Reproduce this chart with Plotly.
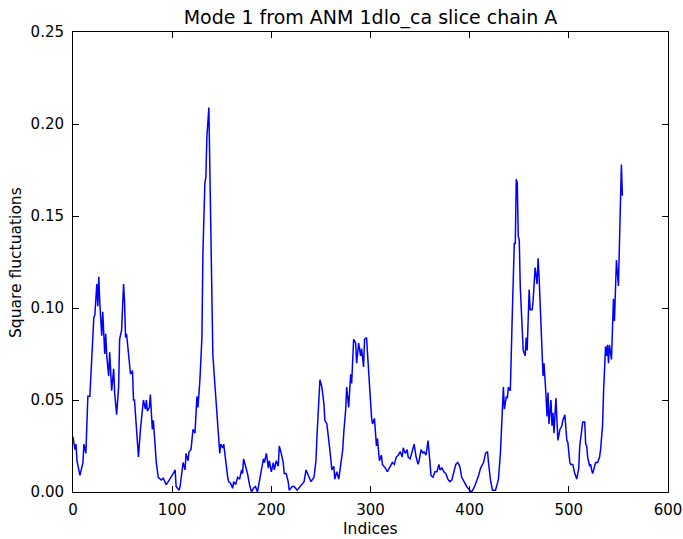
import plotly.graph_objects as go

indices = [0, 2, 3, 4, 7, 10, 11, 13, 14, 15, 17, 19, 20, 21, 22, 24, 25, 26, 27, 29,
           30, 32, 33, 34, 36, 37, 39, 41, 42, 44, 46, 47, 49, 51, 52, 53, 54, 56, 57, 58,
           60, 61, 62, 64, 66, 68, 70, 71, 73, 74, 75, 77, 78, 80, 81, 82, 84, 86, 89, 91,
           94, 97, 99, 101, 103, 104, 107, 108, 111, 113, 114, 116, 117, 119, 121, 123, 125, 126, 128, 130,
           131, 133, 134, 135, 137, 138, 140, 141, 143, 145, 146, 148, 149, 151, 152, 154, 156, 157, 159, 161,
           162, 164, 166, 168, 170, 171, 172, 174, 176, 178, 180, 182, 184, 186, 188,
           190, 192, 193, 195, 197, 198, 200, 202, 203, 205, 207, 208, 210, 212, 213, 215, 217, 218, 221, 223,
           226, 229, 231, 233, 235, 237, 239, 240, 243, 245, 246, 248, 249, 250, 251, 253, 254, 256, 258, 259,
           261, 263, 264, 266, 268, 270, 272, 273, 275, 276, 278, 280, 281, 283, 285, 286, 288, 290, 291, 293,
           294, 296, 298, 299,
           301, 302, 304, 306, 307, 309, 311, 312, 315, 317, 320, 322, 324, 326, 328, 330, 332, 333, 335, 337,
           338, 340, 342, 344, 346, 348, 349, 351, 353, 354, 356, 358, 360, 361, 363, 365, 367, 369, 370, 372,
           374, 376, 378, 380, 382, 384, 386, 388, 390, 392, 395, 397, 400,
           402, 405, 407, 409, 411, 414, 416, 418, 419, 421, 423, 426, 428, 429, 431, 432, 434, 435, 437, 438,
           439, 441, 442, 443, 445, 446, 447, 448, 449, 450, 451, 453, 454, 456, 457, 458, 459, 460, 461, 463,
           464, 465, 466, 468, 469, 470, 471, 472, 474, 475, 476, 477, 478, 479, 480, 482, 483, 484, 485, 487,
           488, 489, 491, 493, 494, 496, 498, 499,
           501, 502, 504, 505, 506, 508, 510, 511, 513, 514, 516, 517, 518, 519, 521, 522, 523, 524, 526, 527,
           529, 531, 532, 534, 535, 537, 538, 539, 540, 541, 543, 544, 545, 546, 547, 548, 550, 551, 552, 553,
           554]

sq_fluct = [0.030, 0.023, 0.026, 0.017, 0.009, 0.016, 0.026, 0.021, 0.037, 0.052, 0.052, 0.077, 0.086, 0.095, 0.096, 0.113, 0.101, 0.117, 0.103, 0.085,
            0.098, 0.075, 0.086, 0.074, 0.063, 0.076, 0.055, 0.067, 0.054, 0.042, 0.057, 0.083, 0.088, 0.113, 0.103, 0.084, 0.086, 0.074, 0.070, 0.064,
            0.066, 0.050, 0.050, 0.034, 0.019, 0.034, 0.045, 0.050, 0.045, 0.050, 0.044, 0.046, 0.053, 0.034, 0.039, 0.032, 0.016, 0.008, 0.0065, 0.0075,
            0.004, 0.0065, 0.008, 0.010, 0.012, 0.003, 0.001, 0.003, 0.016, 0.012, 0.021, 0.017, 0.022, 0.023, 0.034, 0.032, 0.052, 0.046, 0.061, 0.084,
            0.130, 0.168, 0.171, 0.193, 0.209, 0.170, 0.112, 0.075, 0.059, 0.043, 0.036, 0.021, 0.026, 0.024, 0.026, 0.016, 0.008, 0.0056, 0.0047, 0.002,
            0.0056, 0.004, 0.008, 0.007, 0.012, 0.010, 0.018, 0.014, 0.010, 0.004, 0.000, 0.002, 0.003, 0.000, 0.0065,
            0.012, 0.018, 0.016, 0.021, 0.013, 0.017, 0.011, 0.016, 0.012, 0.017, 0.014, 0.025, 0.021, 0.016, 0.010, 0.010, 0.0056, 0.001, 0.003, 0.003,
            0.001, 0.003, 0.0047, 0.0056, 0.012, 0.009, 0.007, 0.0056, 0.008, 0.017, 0.030, 0.048, 0.061, 0.059, 0.057, 0.048, 0.039, 0.037, 0.025, 0.023,
            0.012, 0.014, 0.007, 0.011, 0.007, 0.014, 0.023, 0.032, 0.045, 0.057, 0.046, 0.064, 0.059, 0.083, 0.081, 0.070, 0.081, 0.074, 0.078, 0.068,
            0.083, 0.084, 0.064, 0.057,
            0.041, 0.037, 0.040, 0.025, 0.029, 0.017, 0.020, 0.015, 0.013, 0.011, 0.014, 0.016, 0.015, 0.019, 0.020, 0.022, 0.019, 0.024, 0.021, 0.023,
            0.019, 0.018, 0.022, 0.026, 0.019, 0.015, 0.017, 0.023, 0.021, 0.022, 0.020, 0.028, 0.016, 0.009, 0.008, 0.011, 0.011, 0.015, 0.012, 0.013,
            0.011, 0.010, 0.007, 0.0056, 0.0065, 0.011, 0.015, 0.016, 0.014, 0.008, 0.0047, 0.003, 0.001,
            0.000, 0.003, 0.0056, 0.009, 0.013, 0.016, 0.021, 0.022, 0.016, 0.0065, 0.001, 0.001, 0.0047, 0.007, 0.021, 0.036, 0.057, 0.045, 0.052, 0.051,
            0.057, 0.055, 0.084, 0.097, 0.135, 0.135, 0.170, 0.168, 0.139, 0.137, 0.112, 0.084, 0.077, 0.074, 0.084, 0.077, 0.099, 0.110, 0.099, 0.099,
            0.104, 0.112, 0.122, 0.113, 0.127, 0.117, 0.101, 0.084, 0.063, 0.070, 0.063, 0.052, 0.041, 0.054, 0.037, 0.050, 0.036, 0.043, 0.032, 0.051,
            0.039, 0.028, 0.034, 0.036, 0.039, 0.042, 0.028, 0.027,
            0.016, 0.015, 0.015, 0.012, 0.010, 0.007, 0.013, 0.025, 0.036, 0.038, 0.038, 0.026, 0.025, 0.019, 0.014, 0.015, 0.012, 0.010, 0.014, 0.016,
            0.016, 0.019, 0.023, 0.036, 0.054, 0.079, 0.074, 0.080, 0.070, 0.080, 0.072, 0.093, 0.105, 0.093, 0.115, 0.126, 0.112, 0.130, 0.153, 0.178,
            0.161]

x_ticks = [0, 100, 200, 300, 400, 500, 600]
y_ticks = [0.00, 0.05, 0.10, 0.15, 0.20, 0.25]

title_text = "Mode 1 from ANM 1dlo_ca slice chain A"
x_label = "Indices"
y_label = "Square fluctuations"

font_family = "DejaVu Sans"

W, H = 683, 539
L, R, T, B = 73, 15, 32, 47

fig = go.Figure()
fig.add_trace(go.Scatter(
    x=indices, y=sq_fluct, mode="lines",
    line=dict(color="#0000ff", width=1.5),
    showlegend=False, hoverinfo="skip",
))

axis_common = dict(
    showline=True, linecolor="black", linewidth=1, mirror="ticks",
    ticks="inside", ticklen=6, tickcolor="black", tickwidth=1,
    showgrid=False, zeroline=False, automargin=False,
    ticklabeloverflow="allow",
    tickfont=dict(family=font_family, size=15, color="black"),
)

fig.update_xaxes(range=[0, 600], tickvals=x_ticks, ticktext=[str(v) for v in x_ticks],
                 ticklabelstandoff=4, **axis_common)
fig.update_yaxes(range=[0, 0.25], tickvals=y_ticks, ticktext=["%.2f" % v for v in y_ticks],
                 ticklabelstandoff=5, **axis_common)

fig.add_annotation(text=x_label, xref="paper", yref="paper", x=0.5, y=-(529 - (H - B)) / (H - T - B),
                   showarrow=False, xanchor="center", yanchor="middle",
                   font=dict(family=font_family, size=15.5, color="black"))
fig.add_annotation(text=y_label, xref="paper", yref="paper", x=-(L - 16) / (W - L - R), y=0.5,
                   showarrow=False, xanchor="center", yanchor="middle", textangle=-90,
                   font=dict(family=font_family, size=15.5, color="black"))

fig.update_layout(
    width=W, height=H,
    margin=dict(l=L, r=R, t=T, b=B),
    paper_bgcolor="white", plot_bgcolor="white",
    title=dict(text=title_text, x=(L + (W - L - R) / 2) / W, xanchor="center",
               y=1 - 17 / H, yanchor="middle", yref="container",
               font=dict(family=font_family, size=19, color="black")),
)

fig.write_html("out.html")
